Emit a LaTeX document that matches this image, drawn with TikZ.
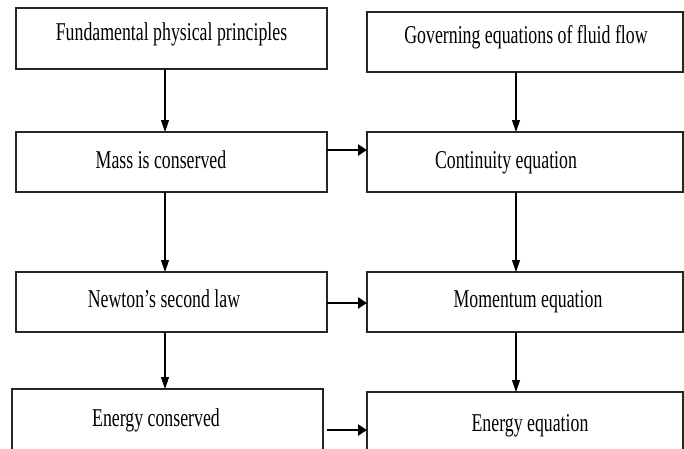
\documentclass[tikz,border=0pt]{standalone}
\usepackage{fontspec}
\usepackage{graphicx}
\setmainfont{Liberation Serif}
\usetikzlibrary{arrows.meta}
\newcommand\vstretch[1]{\scalebox{1}[1.44]{#1}}
\begin{document}
\begin{tikzpicture}[x=1pt,y=-1pt,
  box/.style={draw=black!85, line width=1.2pt, inner sep=0pt, outer sep=0pt},
  lbl/.style={anchor=base, inner sep=0pt, font=\fontsize{17.8pt}{20pt}\selectfont},
  varrow/.style={line width=1.2pt, -{Triangle[length=12pt,width=8pt]}},
  harrow/.style={line width=2.2pt, -{Triangle[length=9pt,width=11pt]}}]
\useasboundingbox (0,0) rectangle (684,448);
\clip (0,0) rectangle (684,448);
\fill[white] (0,0) rectangle (684,448);
% boxes
\node[box, minimum width=311pt, minimum height=61pt] (b1) at (171.5,38.5) {};
\node[box, minimum width=316pt, minimum height=60pt] (b2) at (525,42) {};
\node[box, minimum width=311pt, minimum height=60pt] (b3) at (171.5,162) {};
\node[box, minimum width=316pt, minimum height=60pt] (b4) at (525,162) {};
\node[box, minimum width=311pt, minimum height=60pt] (b5) at (171.5,302) {};
\node[box, minimum width=316pt, minimum height=60pt] (b6) at (525,302) {};
\node[box, minimum width=311pt, minimum height=76pt] (b7) at (167.5,427) {};
\node[box, minimum width=316pt, minimum height=73pt] (b8) at (525,428.5) {};
% texts
\node[lbl] (t1) at (171.5,40) {\vstretch{Fundamental physical principles}};
\node[lbl] (t2) at (526,43.5) {\vstretch{Governing equations of fluid flow}};
\node[lbl] (t3) at (161,168) {\vstretch{Mass is conserved}};
\node[lbl] (t4) at (506,168) {\vstretch{Continuity equation}};
\node[lbl] (t5) at (164,307) {\vstretch{Newton’s second law}};
\node[lbl] (t6) at (528,307) {\vstretch{Momentum equation}};
\node[lbl] (t7) at (156,426) {\vstretch{Energy conserved}};
\node[lbl] (t8) at (530,431) {\vstretch{Energy equation}};
% helper coordinates
\coordinate (lx) at (165,0);
\coordinate (rx) at (516,0);
\coordinate (h1) at (0,150);
\coordinate (h2) at (0,303);
\coordinate (e1) at (327,430);
% vertical arrows
\draw[varrow] (b1.south -| lx) -- (b3.north -| lx);
\draw[varrow] (b3.south -| lx) -- (b5.north -| lx);
\draw[varrow] (b5.south -| lx) -- (b7.north -| lx);
\draw[varrow] (b2.south -| rx) -- (b4.north -| rx);
\draw[varrow] (b4.south -| rx) -- (b6.north -| rx);
\draw[varrow] (b6.south -| rx) -- (b8.north -| rx);
% horizontal arrows
\draw[harrow] (b3.east |- h1) -- (b4.west |- h1);
\draw[harrow] (b5.east |- h2) -- (b6.west |- h2);
\draw[harrow] (e1) -- (b8.west |- e1);
\end{tikzpicture}
\end{document}
